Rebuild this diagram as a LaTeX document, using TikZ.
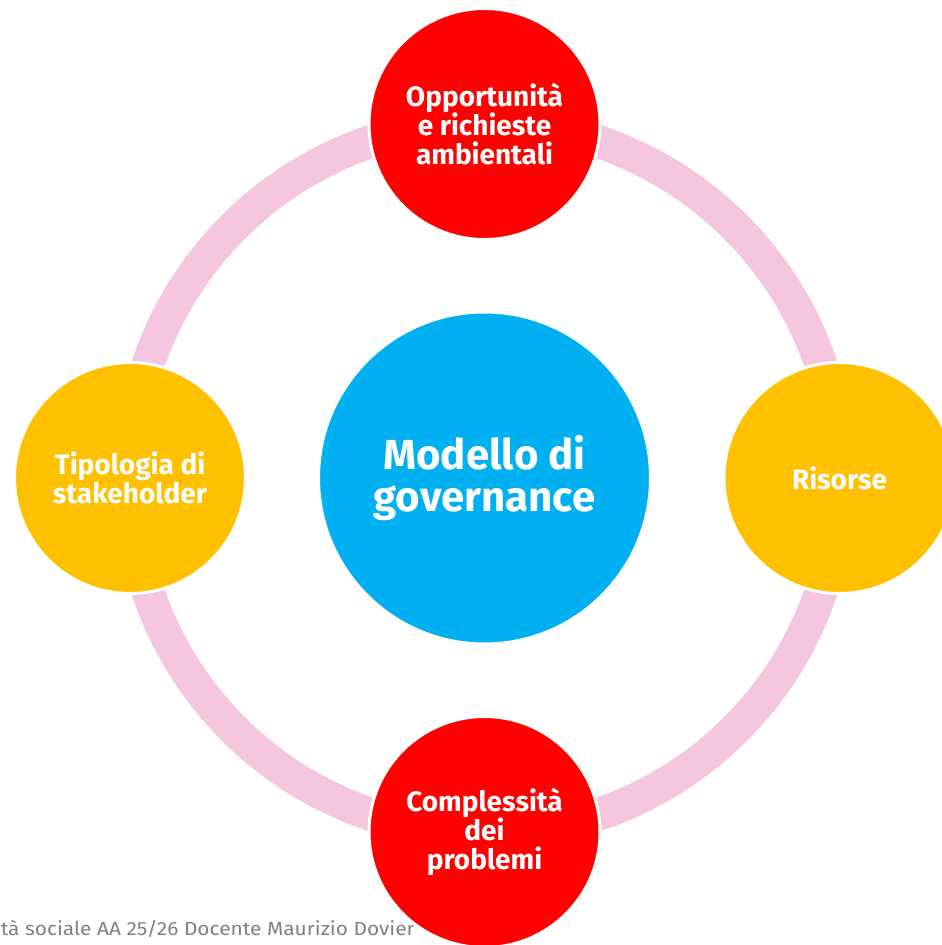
\documentclass[tikz,border=0pt]{standalone}
\usepackage{fontspec}
\setmainfont{Fira Sans}
\newfontfamily\footfont[FakeStretch=1.1]{Fira Sans}
\definecolor{ringpink}{RGB}{245,199,223}
\definecolor{cred}{RGB}{255,0,0}
\definecolor{cyellow}{RGB}{255,192,0}
\definecolor{cblue}{RGB}{0,176,240}
\definecolor{footgrey}{RGB}{128,128,128}
\tikzset{
  ball/.style={circle, draw=white, line width=3pt, inner sep=0pt, minimum size=#1, text=white, align=center, font=\bfseries\fontsize{28}{29}\selectfont},
  hub/.style={circle, draw=white, line width=3pt, inner sep=0pt, minimum size=332pt, fill=cblue, text=white, align=center, font=\bfseries\fontsize{42}{42}\selectfont},
}
\begin{document}
\begin{tikzpicture}[x=1pt,y=-1pt]
\useasboundingbox (0,0) rectangle (942,945);
\node[anchor=base east, text=footgrey, font=\footfont\fontsize{19}{20}\selectfont, inner sep=0pt] (foot) at (415,935) {tà sociale AA 25/26 Docente Maurizio Dovier};
\coordinate (c) at (484.5,478);
\draw[ringpink, line width=33pt] (c) circle[radius=355];
\node[hub] (gov) at (c) {Modello di\\governance};
\node[ball=231pt, fill=cred] (top) at (484.5,124) {Opportunità\\e richieste\\ambientali};
\node[ball=231pt, fill=cyellow] (right) at (839.5,478) {Risorse};
\node[ball=231pt, fill=cred] (bottom) at (484.5,832) {Complessità\\dei\\problemi};
\node[ball=231pt, fill=cyellow] (left) at (130,478) {Tipologia di\\stakeholder};
\end{tikzpicture}
\end{document}
